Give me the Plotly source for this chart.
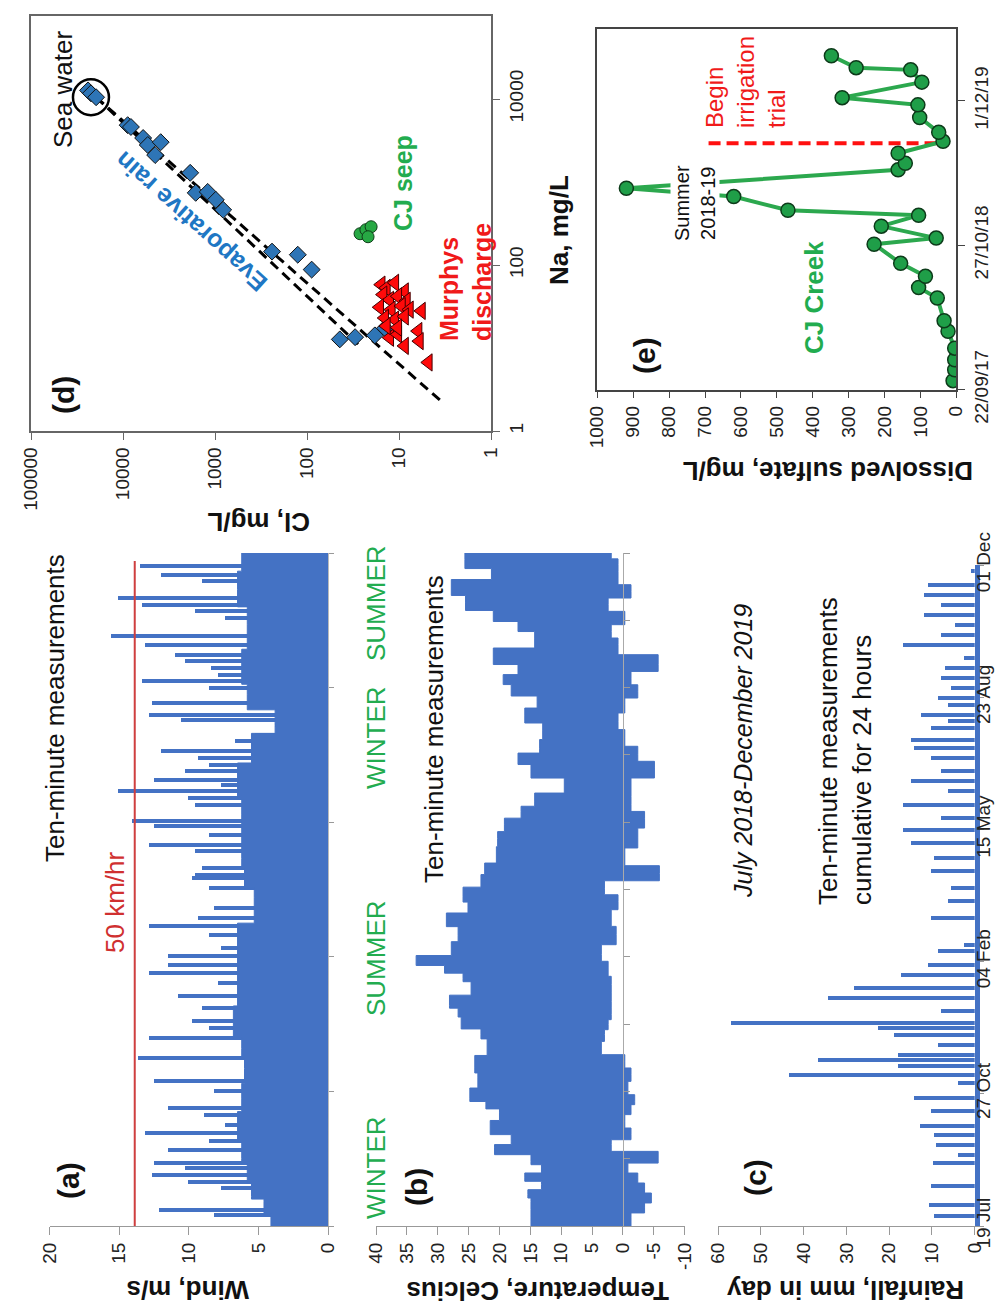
import plotly.graph_objects as go
import pandas as pd

W, H = 1004, 1307
FONT = "Liberation Sans, Arial, sans-serif"
BLUE_TS = "#4472c4"
GREEN_TXT = "#22ac4f"
RED_TXT = "#f01a1a"

# ---------------- panel (d): Cl vs Na (mg/L) ----------------
evap_cl = [24000, 22300, 19600, 8900, 8200, 6040, 5380, 3890, 4470, 1860, 1620,
           1200, 980, 815, 240, 126, 89, 44, 30, 18.3, 14.2]
evap_na = [12700, 11700, 10500, 4840, 4600, 3390, 2790, 3020, 2110, 1290, 740,
           760, 610, 462, 145, 133, 88, 12.7, 13.5, 14.2, 17.3]
seep_cl = [26.5, 22.9, 20.1, 21.7]
seep_na = [238, 266, 289, 219]
murphy_cl = [15.6, 13.7, 11.1, 8.7, 14.9, 12.6, 10.3, 8.3, 16.2, 12.1, 9.4, 7.7,
             5.7, 14.3, 11.1, 8.7, 6.2, 12.6, 10.3, 8.7, 6.0, 4.8, 13.7, 10.3]
murphy_na = [58, 53, 61, 48, 44, 38, 42, 37, 31, 29, 32, 29,
             28, 23, 22, 24, 16, 13.3, 14.6, 10.6, 12.1, 6.7, 18.4, 17.6]
seawater_cl = [22300]
seawater_na = [10500]
line_a_cl = [19600, 3.5]
line_a_na = [10500, 2.3]
line_b_cl = [19600, 27.9]
line_b_na = [10500, 11.1]
log_ticks_cl = [1, 10, 100, 1000, 10000, 100000]
log_ticks_na = [1, 100, 10000]

# ---------------- panel (e): CJ Creek sulfate ----------------
creek_dates = ["2017-10-17", "2017-11-16", "2017-12-14", "2018-01-15", "2018-03-03",
               "2018-04-01", "2018-06-03", "2018-07-02", "2018-08-02", "2018-09-07",
               "2018-10-30", "2018-11-16", "2018-12-19", "2019-01-18", "2019-02-01",
               "2019-03-11", "2019-04-03", "2019-05-24", "2019-06-11", "2019-07-09",
               "2019-08-11", "2019-09-05", "2019-10-16", "2019-11-20", "2019-12-10",
               "2020-01-22", "2020-02-25", "2020-03-02", "2020-04-04"]
creek_so4 = [9, 4.5, 4.5, 4.5, 23, 34, 53, 105, 86, 155, 229, 56, 209, 105, 469,
             620, 919, 162, 142, 162, 37, 49, 102, 107, 318, 96, 127, 279, 348]
irrigation_date = "2019-08-06"
irrigation_so4_span = [55, 700]
e_date_ticks = ["2017-09-22", "2018-10-27", "2019-12-01"]
e_date_labels = ["22/09/17", "27/10/18", "1/12/19"]
e_date_range = ["2017-09-22", "2020-06-18"]

# ---------------- panels (a)-(c): weather station ----------------
series_start = "2018-07-19"
series_end = "2019-12-01"

# typical (dense) wind level through time
wind_body_days = [0, 18, 22, 43, 50, 75, 95, 117, 132, 147, 180, 206, 244, 258, 273,
                  306, 328, 360, 372, 395, 410, 447, 473, 500]
wind_body_vals = [4.1, 4.6, 5.5, 5.8, 6.2, 6.5, 6.2, 6.0, 6.2, 6.8, 6.5, 6.5, 5.3, 6.0,
                  6.2, 6.2, 6.5, 5.5, 3.8, 5.8, 6.2, 5.8, 6.5, 6.2]
# daily peaks
wind_days = [0, 3.5, 8.4, 12, 18.4, 22, 28.2, 33, 38, 43, 46.8, 50.5, 56.7, 63, 69,
             75.3, 82.7, 87.7, 95, 100, 107.5, 117.4, 124.8, 132, 139.7, 147, 152,
             162, 170.6, 180.5, 188, 194.1, 200.4, 206.5, 216.4, 222.7, 228.8, 236.3,
             243.7, 251, 258.5, 261, 266, 273.4, 278.4, 283.3, 290.7, 297, 300.7,
             305.6, 313, 318, 322.9, 327.9, 331.6, 337.8, 342.7, 347.7, 352.7, 360,
             365, 372.4, 376.2, 379.9, 388.6, 394.7, 399.7, 404.7, 409.6, 414.6,
             419.5, 424.4, 431.9, 438, 446.7, 451.7, 456.7, 461.6, 466.6, 473, 479,
             484, 490, 497, 500]
wind_max = [4.1, 4.1, 8.2, 12.2, 4.6, 5.5, 7.7, 10.1, 12.7, 10.3, 12.5, 6.2, 11.5, 8.6,
            13.2, 7.4, 8.9, 11.5, 6.2, 8.2, 12.5, 6.0, 13.7, 6.2, 12.9, 8.6, 9.8,
            9.1, 10.8, 7.9, 12.9, 11.5, 11.5, 7.7, 8.6, 12.9, 9.4, 8.2,
            5.3, 8.6, 9.8, 9.6, 9.1, 6.2, 9.6, 12.9, 8.6, 12.5, 14.1,
            6.2, 9.6, 10.1, 15.1, 7.7, 12.5, 10.3, 8.6, 9.4, 12.0, 6.7,
            5.3, 3.8, 10.6, 12.9, 12.7, 5.8, 8.6, 13.4, 7.9, 8.4,
            10.3, 11.0, 13.2, 15.6, 5.8, 7.4, 9.6, 13.4, 15.1, 6.5, 9.1,
            12.0, 13.5, 6.2, 6.2]
wind_limit_kmh = 50
wind_limit_until = "2019-11-25"

tmax_days = [0, 6, 18.3, 23.3, 30.7, 35.7, 43.1, 48, 58, 63, 72.8, 84, 90, 95, 110,
             117.4, 136, 142, 150.8, 159.7, 164, 179, 184, 191.7, 195.4, 206.5, 216,
             228.8, 236.3, 245, 258.5, 263.7, 275.6, 288, 298, 308, 315.7, 327.6, 338,
             347.7, 355, 367.8, 379.6, 390, 397.5, 407, 412.3, 422, 436.8, 446.5,
             451.7, 462.9, 474, 486.6, 490.3, 500]
tmax_vals = [14.9, 14.9, 14.9, 15.4, 13.2, 15.9, 13.2, 14.9, 20.8, 18.1, 21.5, 20, 22.2,
             24.8, 23.5, 24, 22, 23, 26.2, 26.7, 28.1, 24.6, 25.9, 28.9, 33.5, 27.8,
             26.7, 28.6, 25.1, 25.9, 23, 22.4, 20.5, 20.3, 19.2, 16.5, 14.3, 9.5, 14.9,
             17, 13.5, 13, 15.9, 13.9, 18.1, 19.4, 17, 21, 14.3, 17, 21, 25.5, 27.8,
             21.3, 25.6, 25.6]
tmin_days = [0, 6, 13.4, 20.8, 28.2, 35.7, 43, 50.5, 60.4, 67.8, 77.8, 87.7, 92.6, 102.5,
             112.4, 122.4, 132.2, 142.1, 149.6, 157, 167, 179.3, 191.7, 201.6, 216.4,
             228.8, 241.2, 251, 262, 273.4, 288.3, 303, 313, 325.4, 340.3, 350.2, 362.6,
             375, 387.3, 397.2, 407, 417, 431.9, 441.8, 451.7, 461.6, 471.5, 481.4,
             491.3, 500]
tmin_vals = [-1.3, -1.3, -3.5, -4.6, -3.5, -2.4, -0.8, -5.7, 1.9, -1.3, -0.3, -1.3, -1.9,
             -0.8, -1.3, -0.3, 3.5, 3.0, 2.4, 1.9, 1.9, 1.9, 2.4, 3.5, 1.1, 1.9, 0.8, 3.0,
             -5.9, -0.3, -2.4, -3.5, -1.3, -1.3, -5.1, -2.4, -0.3, 0.8, -0.3, -2.4, -1.3,
             -5.7, 0.8, 1.9, -0.3, 2.4, -1.3, 0.8, 0.8, 1.9]

rain_days = [7.3, 16.1, 30, 47.7, 54, 61.5, 69, 75.4, 86.8, 96.8, 108.2, 114, 120.8,
             125.8, 129.6, 137.1, 144.7, 149.8, 153.6, 162.4, 172.5, 180, 190, 197.7,
             207.8, 212.8, 233, 245.6, 255.7, 268.3, 278.4, 289.7, 299.8, 308.6, 318.7,
             328.8, 336.4, 343.9, 354, 361.6, 367.9, 376.7, 381.8, 386.8, 394.3, 399.4,
             407, 414.5, 422.1, 429.7, 439.7, 447.3, 454.8, 462.4, 470, 477.5, 485.1,
             495.2]
rain_vals = [9.4, 10.6, 10.2, 9.8, 4.0, 9.0, 9.4, 12.9, 10.2, 14.1, 4.0, 43.3, 18.0,
             36.7, 18.0, 8.6, 18.8, 22.7, 56.9, 7.8, 34.3, 28.1, 17.2, 11.0,
             8.6, 2.4, 10.2, 6.3, 5.5, 10.2, 9.4, 14.9, 16.8, 7.9, 16.8,
             6.3, 14.9, 7.9, 10.2, 14.1, 14.9, 10.2, 6.3, 12.5, 6.3, 8.6,
             5.5, 7.9, 7.0, 2.4, 16.8, 7.9, 4.7, 11.8, 7.9, 11.8, 11.0, 0.9]

DAY_MS = 86400000
t0 = pd.Timestamp(series_start)


def to_dates(days):
    return [t0 + pd.Timedelta(days=d) for d in days]


def fx(px):
    return px / W


def fy(py):
    return 1 - py / H


fig = go.Figure()

# ---- panel d ----
for lc, ln in ((line_a_cl, line_a_na), (line_b_cl, line_b_na)):
    fig.add_trace(go.Scatter(x=lc, y=ln, mode="lines", xaxis="x", yaxis="y",
                             line=dict(color="black", width=3, dash="10px,6px")))
fig.add_trace(go.Scatter(x=evap_cl, y=evap_na, mode="markers", xaxis="x", yaxis="y",
                         marker=dict(symbol="diamond", size=13, color="#2e75b6",
                                     line=dict(color="#111", width=1))))
fig.add_trace(go.Scatter(x=seep_cl, y=seep_na, mode="markers", xaxis="x", yaxis="y",
                         marker=dict(symbol="circle", size=12, color="#27a844",
                                     line=dict(color="#0f3d18", width=1))))
fig.add_trace(go.Scatter(x=murphy_cl, y=murphy_na, mode="markers", xaxis="x", yaxis="y",
                         marker=dict(symbol="triangle-left", size=15, color="#ff0a0a",
                                     line=dict(color="#400", width=1))))
fig.add_trace(go.Scatter(x=seawater_cl, y=seawater_na, mode="markers", xaxis="x", yaxis="y",
                         marker=dict(symbol="circle-open", size=36, color="black",
                                     line=dict(width=2.5))))

# ---- panel e ----
fig.add_trace(go.Scatter(x=irrigation_so4_span, y=[irrigation_date] * 2, mode="lines",
                         xaxis="x2", yaxis="y2",
                         line=dict(color="#ff1010", width=4, dash="12px,6px")))
fig.add_trace(go.Scatter(x=creek_so4, y=creek_dates, mode="lines+markers",
                         xaxis="x2", yaxis="y2",
                         line=dict(color="#2ca84e", width=4),
                         marker=dict(size=14, color="#1f9e48",
                                     line=dict(color="#0d3b1a", width=1.5))))

# ---- panel a: wind ----
fig.add_trace(go.Scatter(x=wind_body_vals, y=to_dates(wind_body_days), mode="lines",
                         xaxis="x3", yaxis="y3", fill="tozerox", fillcolor=BLUE_TS,
                         line=dict(color=BLUE_TS, width=1, shape="vhv")))
fig.add_trace(go.Bar(x=wind_max, y=to_dates(wind_days), orientation="h",
                     xaxis="x3", yaxis="y3", width=[3.0 * DAY_MS] * len(wind_days),
                     marker=dict(color=BLUE_TS, line=dict(width=0))))
wind_limit_ms = wind_limit_kmh / 3.6
fig.add_trace(go.Scatter(x=[wind_limit_ms, wind_limit_ms], y=[series_start, wind_limit_until],
                         mode="lines", xaxis="x3", yaxis="y3",
                         line=dict(color="#cf3f3f", width=2)))

# ---- panel b: temperature band ----
fig.add_trace(go.Scatter(x=tmin_vals, y=to_dates(tmin_days), mode="lines",
                         xaxis="x4", yaxis="y4",
                         line=dict(color=BLUE_TS, width=1, shape="vhv")))
fig.add_trace(go.Scatter(x=tmax_vals, y=to_dates(tmax_days), mode="lines",
                         xaxis="x4", yaxis="y4", fill="tonextx", fillcolor=BLUE_TS,
                         line=dict(color=BLUE_TS, width=1, shape="vhv")))

# ---- panel c: rainfall ----
fig.add_trace(go.Bar(x=rain_vals, y=to_dates(rain_days), orientation="h",
                     xaxis="x5", yaxis="y5", width=[3.2 * DAY_MS] * len(rain_days),
                     marker=dict(color=BLUE_TS, line=dict(width=0))))

tick_font = dict(family=FONT, size=19, color="#222")
base = dict(showgrid=False, zeroline=False, ticks="outside", tickfont=tick_font,
            automargin=False)

temp_range = [40, -10]
temp_dom = [fx(368), fx(676.7)]
temp_zero_pos = temp_dom[0] + (temp_range[0] - 0) / (temp_range[0] - temp_range[1]) * (temp_dom[1] - temp_dom[0])

fig.update_layout(
    template="none",
    width=W, height=H, margin=dict(l=0, r=0, t=0, b=0, pad=0, autoexpand=False),
    paper_bgcolor="white", plot_bgcolor="white", showlegend=False,
    bargap=0, barmode="overlay",
    font=dict(family=FONT, color="#111"),
    xaxis=dict(base, type="log", range=[5, 0], domain=[fx(23), fx(483)], anchor="y",
               tickvals=log_ticks_cl, ticktext=[str(v) for v in log_ticks_cl],
               tickangle=-90, showline=True, mirror=True, linecolor="#666",
               linewidth=1.5, ticklen=7, tickcolor="#666"),
    yaxis=dict(base, type="log", range=[0, 5], domain=[fy(423), fy(8)], anchor="x",
               side="right", tickvals=log_ticks_na, ticktext=[str(v) for v in log_ticks_na],
               tickangle=-90, showline=True, mirror=True, linecolor="#666",
               linewidth=1.5, ticklen=7, tickcolor="#666"),
    xaxis2=dict(base, range=[1000, 0], tick0=0, dtick=100, domain=[fx(589.3), fx(948.3)],
                anchor="y2", tickangle=-90, showline=True, mirror=True, linecolor="#444",
                linewidth=1.5, ticklen=7, tickcolor="#444"),
    yaxis2=dict(base, type="date", range=e_date_range, domain=[fy(381.7), fy(20.7)],
                anchor="x2", side="right", tickvals=e_date_ticks, ticktext=e_date_labels,
                tickangle=-90, showline=True, mirror=True, linecolor="#444",
                linewidth=1.5, ticklen=7, tickcolor="#444"),
    xaxis3=dict(base, range=[20, 0], tickvals=[0, 5, 10, 15, 20], domain=[fx(41.7), fx(320)],
                anchor="y3", tickangle=-90, showline=True, linecolor="#999",
                ticklen=8, tickcolor="#999"),
    yaxis3=dict(base, type="date", range=[series_start, series_end],
                domain=[fy(1218), fy(545)], anchor="x3", side="right",
                showticklabels=False, tick0=series_start, dtick=100 * DAY_MS,
                ticklen=5, tickcolor="#999", showline=True, linecolor="#bbb"),
    xaxis4=dict(base, range=temp_range, tickvals=list(range(-10, 45, 5)),
                ticktext=[str(v) for v in range(-10, 45, 5)], domain=temp_dom,
                anchor="y4", tickangle=-90, showline=True, linecolor="#999",
                ticklen=8, tickcolor="#999"),
    yaxis4=dict(base, type="date", range=[series_start, series_end],
                domain=[fy(1218), fy(545)], anchor="free", position=temp_zero_pos,
                side="right", showticklabels=False, tick0=series_start,
                dtick=50 * DAY_MS, ticklen=6, tickcolor="#999",
                showline=True, linecolor="#aaa"),
    xaxis5=dict(base, range=[60, 0], tickvals=list(range(0, 70, 10)),
                domain=[fx(710), fx(966.7)], anchor="y5", tickangle=-90,
                showline=True, linecolor="#999", ticklen=8, tickcolor="#999"),
    yaxis5=dict(base, type="date", range=[series_start, series_end],
                domain=[fy(1218), fy(557)], anchor="x5", side="right",
                tickformat="%d %b", tick0=series_start, dtick=100 * DAY_MS,
                tickangle=-90, ticklen=4, tickcolor="#999", showline=True,
                linecolor=BLUE_TS, linewidth=5, ticklabelstandoff=-17,
                tickfont=dict(family=FONT, size=19, color="#222")),
)

notes = [
    # text, x_px, y_px, size, color, angle, align, bg
    ("<b>(d)</b>", 55, 387, 30, "#111", -90, "center", None),
    ("Sea water", 55, 82, 26, "#111", -90, "center", None),
    ("<b>Evaporative rain</b>", 183, 214, 25, "#1f77c4", -138, "center", None),
    ("<b>CJ seep</b>", 395, 175, 25, GREEN_TXT, -90, "center", None),
    ("<b>Murphys<br>discharge</b>", 457, 274, 25, RED_TXT, -90, "left", None),
    ("<b>Cl, mg/L</b>", 251, 514, 26, "#111", 180, "center", None),
    ("<b>Na, mg/L</b>", 551, 222, 26, "#111", -90, "center", None),
    ("<b>(e)</b>", 636, 348, 30, "#111", -90, "center", None),
    ("<b>CJ Creek</b>", 806, 290, 26, GREEN_TXT, -90, "center", None),
    ("Summer<br>2018-19", 687, 195, 20, "#111", -90, "center", "white"),
    ("Begin<br>irrigation<br>trial", 737, 74, 24, RED_TXT, -90, "left", None),
    ("<b>Dissolved sulfate, mg/L</b>", 820, 463, 26, "#111", 180, "center", None),
    ("<b>(a)</b>", 60, 1173, 30, "#111", -90, "center", None),
    ("50 km/hr", 107, 895, 26, "#d03030", -90, "center", None),
    ("Ten-minute measurements", 47, 700, 26, "#111", -90, "center", None),
    ("WINTER", 368, 1160, 26, GREEN_TXT, -90, "center", None),
    ("SUMMER", 368, 950, 26, GREEN_TXT, -90, "center", None),
    ("WINTER", 368, 730, 26, GREEN_TXT, -90, "center", None),
    ("SUMMER", 368, 595, 26, GREEN_TXT, -90, "center", None),
    ("<b>Wind, m/s</b>", 180, 1282, 26, "#111", 180, "center", None),
    ("<b>(b)</b>", 408, 1179, 30, "#111", -90, "center", None),
    ("Ten-minute measurements", 426, 721, 26, "#111", -90, "center", None),
    ("<b>Temperature, Celcius</b>", 530, 1283, 26, "#111", 180, "center", None),
    ("<b>(c)</b>", 747, 1170, 30, "#111", -90, "center", None),
    ("<i>July 2018-December 2019</i>", 735, 743, 25, "#111", -90, "center", None),
    ("Ten-minute measurements<br>cumulative for 24 hours", 837, 743, 26, "#111", -90, "left", None),
    ("<b>Rainfall, mm in day</b>", 838, 1282, 26, "#111", 180, "center", None),
]
for text, x, y, size, color, angle, align, bg in notes:
    fig.add_annotation(text=text, x=fx(x), y=fy(y), xref="paper", yref="paper",
                       showarrow=False, textangle=angle, align=align,
                       xanchor="center", yanchor="middle",
                       font=dict(family=FONT, size=size, color=color),
                       bgcolor=bg if bg else "rgba(0,0,0,0)", borderpad=0)

fig.write_html("out.html")
